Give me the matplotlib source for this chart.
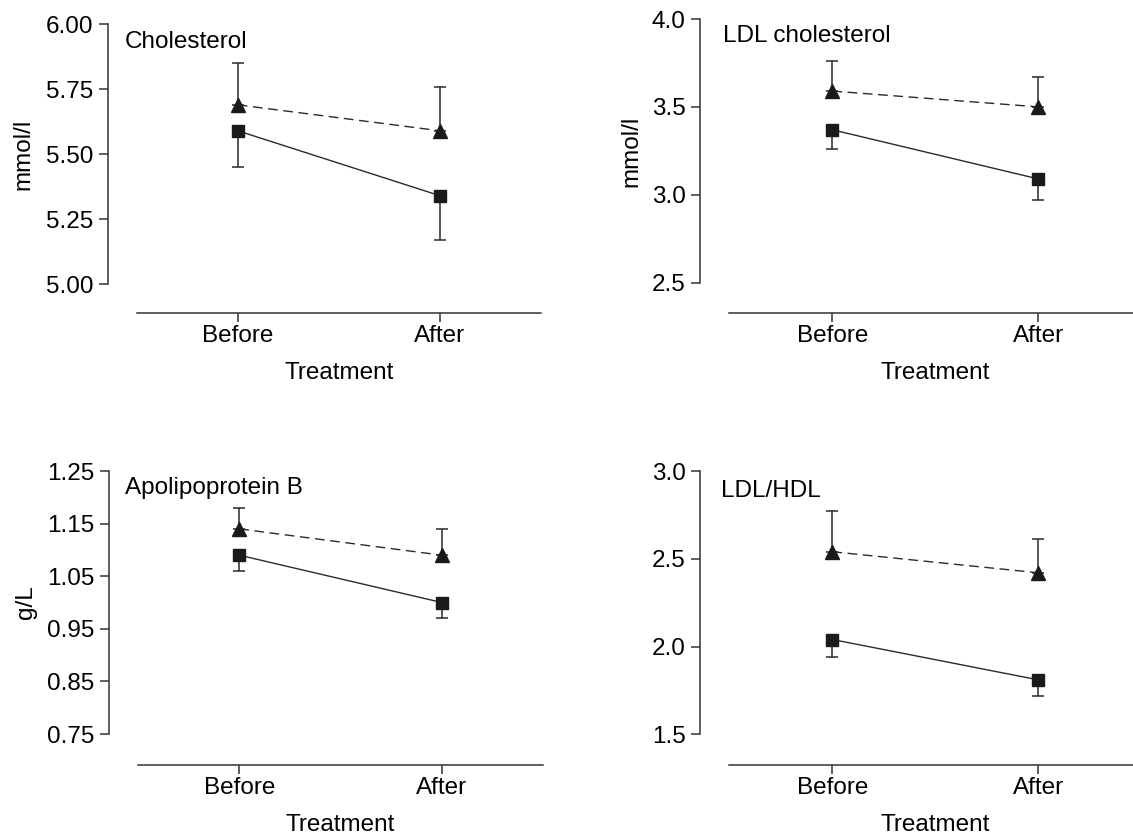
import matplotlib
matplotlib.use("Agg")
import matplotlib.pyplot as plt

plt.rcParams['font.family'] = ['Liberation Sans', 'DejaVu Sans']

# ---------------- data ----------------
groups = ["Before", "After"]

chol_tri = [5.69, 5.59]
chol_tri_err = [0.16, 0.17]
chol_sq = [5.59, 5.34]
chol_sq_err = [0.14, 0.17]
chol_ticks = [5.00, 5.25, 5.50, 5.75, 6.00]
chol_ticklabels = ["5.00", "5.25", "5.50", "5.75", "6.00"]

ldl_tri = [3.59, 3.50]
ldl_tri_err = [0.17, 0.17]
ldl_sq = [3.37, 3.09]
ldl_sq_err = [0.11, 0.12]
ldl_ticks = [2.5, 3.0, 3.5, 4.0]
ldl_ticklabels = ["2.5", "3.0", "3.5", "4.0"]

apob_tri = [1.14, 1.09]
apob_tri_err = [0.04, 0.05]
apob_sq = [1.09, 1.00]
apob_sq_err = [0.03, 0.03]
apob_ticks = [0.75, 0.85, 0.95, 1.05, 1.15, 1.25]
apob_ticklabels = ["0.75", "0.85", "0.95", "1.05", "1.15", "1.25"]

ratio_tri = [2.54, 2.42]
ratio_tri_err = [0.23, 0.19]
ratio_sq = [2.04, 1.81]
ratio_sq_err = [0.10, 0.09]
ratio_ticks = [1.5, 2.0, 2.5, 3.0]
ratio_ticklabels = ["1.5", "2.0", "2.5", "3.0"]

titles = ["Cholesterol", "LDL cholesterol", "Apolipoprotein B", "LDL/HDL"]
ylabels = ["mmol/l", "mmol/l", "g/L", ""]
xlabel = "Treatment"

# ---------------- layout (pixels) ----------------
W, H = 1133, 834
fig = plt.figure(figsize=(W / 100, H / 100), dpi=100)

FS = 17.5
SPINE_C = "#333333"
MARK_C = "#1a1a1a"
LINE_C = "#2a2a2a"

# left, right, top(of top tick), bottom(x-axis line), ylim bottom
layouts = [
    (136.7, 541.0, 24.3, 312.7, 4.8895),
    (729.3, 1141.5, 19.0, 312.7, 2.3293),
    (138.0, 543.0, 471.0, 765.0, 0.6911),
    (729.3, 1141.5, 471.0, 765.0, 1.325),
]
title_pos = [(125, 47.5), (723, 41.5), (125, 494), (721, 497)]
ylabel_pos = [(23, 154), (631, 151), (26, 602), None]

panels = [
    (chol_tri, chol_tri_err, chol_sq, chol_sq_err, chol_ticks, chol_ticklabels),
    (ldl_tri, ldl_tri_err, ldl_sq, ldl_sq_err, ldl_ticks, ldl_ticklabels),
    (apob_tri, apob_tri_err, apob_sq, apob_sq_err, apob_ticks, apob_ticklabels),
    (ratio_tri, ratio_tri_err, ratio_sq, ratio_sq_err, ratio_ticks, ratio_ticklabels),
]

x = list(range(len(groups)))

for i, (tri, tri_err, sq, sq_err, ticks, ticklabels) in enumerate(panels):
    left, right, top, bottom, ylo = layouts[i]
    ax = fig.add_axes([left / W, 1 - bottom / H, (right - left) / W, (bottom - top) / H])
    ax.set_xlim(-0.5, 1.5)
    ax.set_ylim(ylo, ticks[-1])

    # error bars (one-sided)
    ax.errorbar(x, tri, yerr=[[0] * len(tri), tri_err], fmt='none', ecolor=LINE_C,
                elinewidth=1.1, capsize=4.5, capthick=1.1, zorder=2, clip_on=False)
    ax.errorbar(x, sq, yerr=[sq_err, [0] * len(sq)], fmt='none', ecolor=LINE_C,
                elinewidth=1.1, capsize=4.5, capthick=1.1, zorder=2, clip_on=False)
    # lines + markers
    ax.plot(x, tri, linestyle=(0, (7, 4)), color=LINE_C, lw=1.0, marker='^',
            markersize=10.5, markerfacecolor=MARK_C, markeredgecolor=MARK_C,
            zorder=3, clip_on=False)
    ax.plot(x, sq, linestyle='-', color=LINE_C, lw=1.0, marker='s',
            markersize=8.5, markerfacecolor=MARK_C, markeredgecolor=MARK_C,
            zorder=3, clip_on=False)

    for s in ['top', 'right']:
        ax.spines[s].set_visible(False)
    ax.spines['left'].set_position(('outward', 29 * 0.72))
    ax.spines['left'].set_bounds(ticks[0], ticks[-1])
    for s in ['left', 'bottom']:
        ax.spines[s].set_color(SPINE_C)
        ax.spines[s].set_linewidth(1.1)

    ax.set_yticks(ticks)
    ax.set_yticklabels(ticklabels)
    ax.set_xticks(x)
    ax.set_xticklabels(groups)
    ax.tick_params(axis='both', length=6.5, width=1.1, color=SPINE_C, labelsize=FS,
                   labelcolor='black')
    ax.tick_params(axis='y', pad=4)
    ax.tick_params(axis='x', pad=2)
    ax.set_xlabel(xlabel, fontsize=FS, labelpad=11)
    ax.patch.set_visible(False)

    tx, ty = title_pos[i]
    fig.text(tx / W, 1 - ty / H, titles[i], fontsize=FS, ha='left', va='baseline')
    if ylabel_pos[i] is not None:
        lx, ly = ylabel_pos[i]
        fig.text(lx / W, 1 - ly / H, ylabels[i], fontsize=FS, rotation=90,
                 ha='center', va='center')

fig.savefig("out.png", dpi=100)
